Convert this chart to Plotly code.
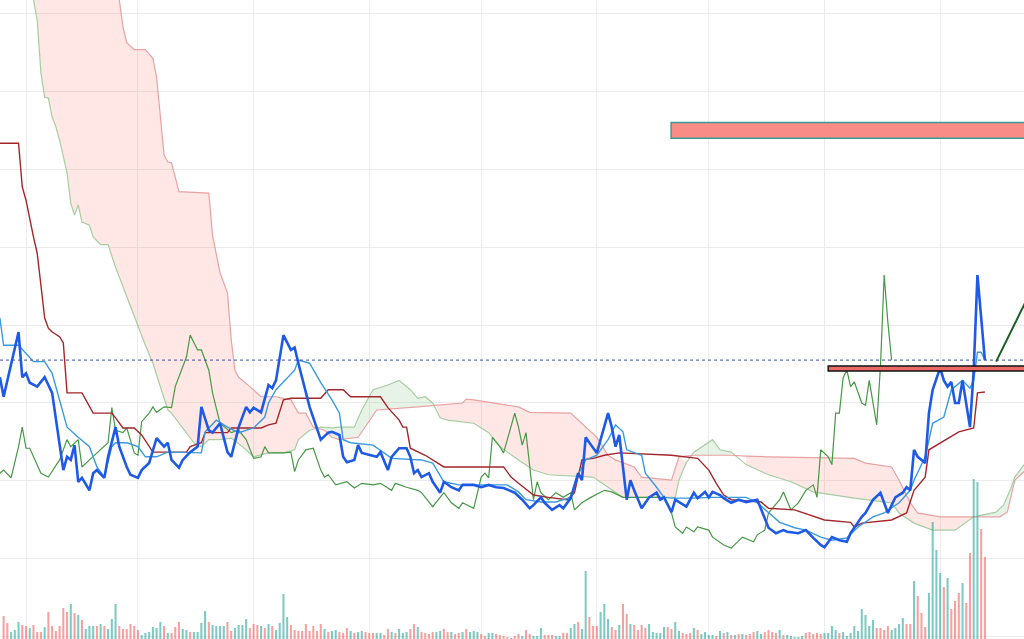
import pandas as pd
import plotly.graph_objects as go

START = pd.Timestamp("2018-06-01")

# (day offset from START, close)
price = [(-7,33.3),(-6,30.8),(-2,39.1),(-1,33.3),(0,33.8),(1,32.6),(3,32.1),(5,33.3),(7,31.3),(10,21.4),
         (11,23.1),(12,22.7),(13,24.6),(14,19.9),(15,20.4),(17,18.8),(18,21.0),(19,21.4),(21,20.4),(22,23.1),
         (24,26.9),(25,24.4),(27,21.8),(28,20.8),(30,20.4),(31,21.4),(33,22.3),(35,25.5),(37,24.4),(38,24.9),
         (39,22.7),(41,21.7),(42,22.7),(44,23.7),(46,24.4),(47,29.5),(49,26.5),(50,26.2),(52,27.4),(54,23.7),
         (55,23.1),(57,26.9),(59,29.5),(60,28.8),(61,29.4),(63,28.8),(65,32.3),(66,31.9),(67,32.9),(69,38.7),
         (71,36.8),(72,37.1),(73,35.1),(76,29.5),(79,25.3),(81,26.2),(82,26.3),(84,25.9),(85,23.1),(86,22.4),
         (88,22.7),(89,24.6),(90,23.6),(92,23.3),(94,23.1),(95,23.7),(97,21.4),(98,23.1),(100,24.2),(102,24.2),
         (103,23.1),(104,21.0),(105,21.4),(106,20.5),(108,21.0),(109,19.9),(111,18.5),(112,19.9),(114,19.2),
         (116,18.8),(117,19.5),(120,19.5),(122,19.2),(124,19.5),(126,19.2),(128,19.1),(131,18.5),(133,17.6),
         (135,16.5),(136,16.9),(138,17.9),(139,17.2),(141,16.3),(143,16.9),(144,16.5),(146,17.8),(148,21.0),
         (149,20.1),(150,25.6),(151,24.9),(153,23.6),(156,28.7),(157,26.9),(158,24.4),(159,25.9),(161,17.6),
         (162,20.1),(163,18.8),(164,17.6),(165,16.5),(167,17.9),(169,18.5),(170,17.6),(171,17.9),(173,16.0),
         (174,17.6),(177,16.7),(179,18.5),(180,17.8),(182,18.6),(183,17.9),(184,18.6),(186,18.2),(187,17.8),
         (189,17.2),(191,17.6),(193,17.3),(196,17.6),(199,14.0),(201,13.3),(203,13.7),(204,13.5),(207,13.3),
         (209,13.7),(211,12.7),(213,11.8),(214,11.5),(216,12.8),(218,12.4),(220,12.2),(221,13.3),(224,15.4),
         (225,15.9),(227,17.6),(229,18.5),(231,15.9),(233,17.9),(235,18.5),(236,19.2),(237,18.8),(238,24.0),
         (239,23.1),(241,22.3),(242,28.7),(243,31.7),(245,34.5),(246,32.9),(247,32.1),(248,32.7),(249,30.0),
         (250,30.0),(251,32.9),(253,26.9),(254,34.2),(255,46.4),(257,35.5)]

tenkan = [(-7,40.9),(-6,37.4),(-3,37.4),(-2,37.4),(2,35.3),(5,35.3),(7,33.8),(11,26.9),(14,25.6),(17,24.4),
          (19,21.8),(21,20.5),(23,24.4),(24,24.9),(27,24.9),(30,24.4),(32,23.1),(35,23.1),(38,23.7),(45,23.6),
          (47,23.6),(48,26.3),(51,27.8),(54,26.9),(57,26.2),(61,26.8),(64,28.2),(65,30.0),(67,31.7),(72,34.2),
          (73,35.5),(76,35.1),(79,32.6),(82,30.4),(84,28.7),(85,25.3),(87,24.9),(93,24.6),(96,23.6),(98,22.9),
          (106,22.7),(109,22.3),(112,19.9),(116,19.5),(129,19.5),(132,18.6),(134,17.6),(138,17.3),(142,17.3),
          (146,17.9),(147,19.2),(148,20.8),(150,22.7),(153,23.3),(156,25.3),(158,27.2),(160,26.3),(161,24.0),
          (165,23.3),(166,21.0),(169,19.2),(171,17.9),(173,17.8),(179,17.8),(184,17.9),(193,17.9),(196,17.2),
          (199,15.9),(202,14.7),(206,14.0),(209,13.7),(213,12.8),(216,12.4),(220,12.7),(223,14.1),(227,15.4),
          (230,15.9),(234,17.2),(237,18.8),(238,20.1),(241,23.1),(243,27.4),(246,28.2),(248,31.7),(251,32.9),
          (253,31.9),(254,32.9),(255,36.5),(256,36.5),(257,35.5)]

kijun = [(-7,63.3),(-2,63.3),(-1,57.7),(0,56.0),(2,51.3),(3,49.2),(4,45.1),(5,40.9),(6,39.6),(7,39.1),
         (9,38.5),(10,37.7),(11,31.3),(15,31.3),(18,28.7),(23,28.7),(24,28.1),(26,26.8),(29,26.8),(31,25.9),
         (34,23.7),(43,23.7),(44,24.4),(47,24.9),(48,26.2),(54,26.2),(55,26.8),(63,26.8),(65,27.2),(67,27.4),
         (69,30.4),(71,30.6),(79,30.6),(81,31.7),(85,31.7),(87,30.8),(95,30.8),(97,29.4),(100,27.8),(101,26.9),
         (102,26.9),(103,24.2),(107,23.3),(112,21.8),(128,21.8),(130,20.5),(132,19.7),(136,18.2),(140,17.9),
         (145,17.6),(147,18.5),(149,22.7),(152,22.9),(155,23.3),(159,23.6),(173,23.3),(180,22.9),(183,21.4),
         (185,19.7),(187,18.2),(189,17.6),(197,17.3),(199,16.5),(206,16.3),(214,15.0),(221,14.7),(222,14.1),
         (224,14.6),(232,15.0),(236,15.9),(238,18.8),(241,20.5),(242,24.0),(245,24.9),(250,26.3),(254,26.8),
         (255,31.3),(257,31.4)]

chikou = [(-7,21.0),(-6,21.4),(-4,20.4),(-2,24.4),(-1,26.9),(0,24.2),(1,24.2),(4,21.0),(6,20.5),(7,21.2),
          (9,22.7),(11,25.3),(12,24.4),(14,25.3),(15,21.8),(17,22.7),(20,24.0),(22,24.9),(23,29.4),(24,26.5),
          (26,26.2),(27,26.8),(29,23.6),(30,23.3),(31,27.6),(33,28.7),(34,29.5),(35,28.8),(37,29.5),(39,29.4),
          (40,32.1),(41,33.3),(43,35.9),(44,38.7),(46,36.8),(47,36.8),(49,34.2),(50,31.3),(52,27.4),(55,26.2),
          (57,26.5),(59,25.3),(61,22.9),(63,23.1),(64,24.4),(65,23.6),(69,23.6),(71,23.7),(72,21.2),(73,22.7),
          (75,24.0),(77,24.2),(79,21.4),(80,20.5),(81,20.8),(83,19.5),(86,19.9),(88,19.1),(90,19.7),(93,19.5),
          (95,19.7),(98,18.8),(99,19.7),(102,19.2),(105,18.8),(106,18.5),(109,16.7),(112,18.5),(114,17.2),
          (116,16.5),(117,17.2),(120,16.5),(121,18.5),(122,20.5),(123,21.0),(124,20.4),(125,25.6),(127,24.4),
          (128,23.6),(131,28.7),(132,26.9),(133,24.6),(134,26.2),(135,22.3),(136,17.6),(137,19.9),(138,18.5),
          (140,17.6),(142,18.5),(144,17.9),(146,18.5),(147,16.3),(149,17.2),(151,17.8),(155,18.8),(157,18.6),
          (160,17.9),(168,17.9),(171,17.9),(173,15.9),(174,14.1),(176,13.3),(177,14.1),(179,13.5),(180,14.1),
          (183,13.7),(184,12.8),(187,11.8),(189,11.4),(192,12.8),(195,12.2),(196,13.1),(198,13.7),(199,15.9),
          (202,17.6),(203,18.6),(205,16.3),(207,17.2),(209,18.8),(211,19.5),(212,17.9),(213,24.0),(215,23.1),
          (216,22.1),(217,28.7),(218,28.7),(219,33.2),(220,34.2),(221,32.1),(222,32.7),(224,30.0),(225,29.7),
          (226,32.9),(228,27.2),(229,34.6),(230,46.4),(231,40.3),(232,35.5)]

span_a = [(1,83.6),(2,81.7),(3,79.1),(4,72.3),(5,69.2),(6,69.1),(7,66.7),(8,65.4),(9,63.7),(11,59.5),
          (12,55.6),(13,54.1),(14,55.4),(15,53.2),(17,52.8),(18,51.3),(20,50.3),(22,50.3),(24,47.4),(27,43.6),
          (29,41.3),(31,38.7),(32,37.4),(34,35.1),(36,32.1),(37,30.4),(38,29.1),(39,28.7),(41,27.4),(43,26.2),
          (45,24.9),(47,24.4),(49,25.3),(52,25.3),(55,25.5),(58,24.4),(61,23.1),(65,23.6),(69,23.6),(72,24.0),
          (73,25.3),(76,26.5),(79,26.9),(82,26.8),(84,26.9),(88,26.9),(90,29.1),(93,31.7),(97,32.3),(100,32.9),
          (103,31.7),(105,30.6),(107,30.8),(109,30.0),(111,28.1),(113,27.8),(120,27.4),(124,26.2),(127,24.4),
          (132,22.7),(136,21.4),(140,20.8),(152,20.5),(156,19.2),(160,17.9),(174,17.9),(175,20.1),(177,22.4),
          (179,23.7),(184,25.3),(186,24.0),(189,23.7),(193,22.1),(199,20.8),(205,19.9),(211,18.6),(222,17.8),
          (232,17.2),(234,15.9),(238,14.6),(243,13.7),(249,13.7),(252,14.7),(254,15.4),(260,16.0),(262,16.9),
          (264,19.1),(265,20.5),(268,22.4),(272,25.5)]

span_b = [(2,91.9),(23,83.0),(25,81.7),(26,78.2),(27,76.2),(29,75.3),(32,75.3),(34,74.2),(35,71.8),(37,61.8),
          (38,60.9),(39,60.8),(41,57.1),(49,56.9),(50,51.5),(52,46.7),(54,44.1),(55,38.1),(56,34.2),(57,33.3),
          (60,32.1),(63,30.8),(67,30.8),(71,30.4),(73,28.7),(75,28.7),(77,26.9),(80,26.5),(82,25.6),(84,25.3),
          (89,25.6),(92,27.8),(94,29.1),(105,29.5),(110,29.7),(117,30.0),(118,30.5),(120,30.4),(132,29.5),
          (135,28.8),(146,28.7),(148,27.8),(153,25.6),(156,23.3),(158,22.7),(163,21.8),(165,20.5),(173,20.1),
          (175,23.1),(179,23.3),(189,23.3),(193,23.2),(199,23.1),(222,22.9),(225,22.3),(232,21.8),(234,20.1),
          (237,17.2),(239,15.9),(245,15.4),(250,15.4),(254,15.4),(261,15.4),(263,16.0),(264,17.9),(265,20.1),
          (267,21.0),(268,21.4),(272,23.0)]

# days where span A and span B swap places (bearish cloud first)
cloud_turns = [78, 110, 178, 190, 254]

vol_first_day = -6
volume = [23,16,7,9,17,14,13,11,14,7,7,12,27,13,8,13,31,27,35,26,24,19,10,13,13,13,15,13,10,20,
          35,13,10,10,15,13,9,4,6,7,12,11,17,13,6,6,12,17,10,9,7,7,7,16,28,17,14,13,13,13,
          17,8,11,14,14,20,11,15,
          14,13,11,15,13,9,16,45,22,14,9,8,8,15,8,13,8,15,10,7,8,9,7,6,11,8,6,7,8,7,
          6,6,6,6,4,10,7,6,10,6,7,10,15,12,7,6,5,7,7,8,10,7,7,5,6,7,10,7,8,7,5,3,6,6,5,4,3,2,1,
          3,5,3,9,5,3,3,11,4,4,4,3,3,6,6,11,15,17,10,68,22,13,13,27,35,20,12,9,14,35,
          25,15,14,9,14,11,15,7,6,6,12,12,10,17,8,6,5,6,11,9,5,7,4,4,3,8,6,7,4,4,5,5,4,5,7,8,5,7,9,
          7,6,9,4,4,3,2,2,3,6,7,5,6,5,6,6,13,9,6,7,3,6,13,8,30,24,13,19,11,11,
          9,13,9,11,15,21,15,15,58,43,26,12,46,117,89,66,52,61,30,38,46,56,36,86,160,157,110,82]
vol_dir = ("ddtttddtdd" "dtddddddtd" "tdtttdtdtt" "tddddddttt" "tttdtdddtt" "dttttdtttt" "ddttttdd"
           "dtdtdttttd" "ddddddddtd" "ttdddtdttd" "ddttddtdtt" "tddtddddtt" "ddtddtdttt" "ddttddddt"
           "ddtddtttdd" "dttddttdtt" "dddtttddtd" "dtddddtttt" "tddttdddtd" "ttttdtdtdt" "dtdddttdd"
           "ddtdtttttd" "ddddttttdt" "ttttttttdd" "ddttttddtd" "ddttttdtdd" "dtddttdd")

zone_upper = (172.9, 63.95, 65.95)   # start day, low, high
zone_lower = (215.0, 34.1, 34.75)
trend_line = [(260.0, 35.3), (270.0, 45.0)]


def dates(days):
    return [START + pd.Timedelta(days=float(d)) for d in days]


fig = go.Figure()

# cloud fills
bounds = [-1e9] + cloud_turns + [1e9]
fill_cols = ["rgba(244,67,54,0.13)", "rgba(67,160,71,0.13)"]
for k in range(len(bounds) - 1):
    lo, hi = bounds[k], bounds[k + 1]
    a = [p for p in span_a if lo <= p[0] <= hi]
    b = [p for p in span_b if lo <= p[0] <= hi]
    xs = [p[0] for p in a] + [p[0] for p in reversed(b)]
    ys = [p[1] for p in a] + [p[1] for p in reversed(b)]
    fig.add_trace(go.Scatter(x=dates(xs), y=ys, mode="lines", fill="toself",
                             fillcolor=fill_cols[k % 2], line=dict(width=0),
                             hoverinfo="skip"))


def line(series, color, width):
    fig.add_trace(go.Scatter(x=dates([p[0] for p in series]), y=[p[1] for p in series],
                             mode="lines", line=dict(color=color, width=width)))


line(span_a, "#a6cda2", 1.2)
line(span_b, "#e8a2a2", 1.2)
line(chikou, "#479847", 1.2)
line(kijun, "#a3262a", 1.4)
line(tenkan, "#3a9ae0", 1.4)
line(price, "#1e5ae6", 2.6)

vol_days = list(range(vol_first_day, vol_first_day + len(volume)))
fig.add_trace(go.Bar(x=dates(vol_days), y=volume, yaxis="y2",
                     marker=dict(color=["rgba(38,166,154,0.6)" if c == "t" else "rgba(239,83,80,0.55)"
                                        for c in vol_dir], line=dict(width=0))))

last_close = price[-1][1]
shapes = [
    dict(type="line", xref="paper", x0=0, x1=1, yref="y", y0=last_close, y1=last_close,
         line=dict(color="#3b4fa0", width=1, dash="dot")),
    dict(type="rect", xref="x", yref="y", x0=dates([zone_upper[0]])[0], x1=dates([300])[0],
         y0=zone_upper[1], y1=zone_upper[2], fillcolor="#fa8c87",
         line=dict(color="#3c9a96", width=1.5)),
    dict(type="rect", xref="x", yref="y", x0=dates([zone_lower[0]])[0], x1=dates([300])[0],
         y0=zone_lower[1], y1=zone_lower[2], fillcolor="#ec6a66",
         line=dict(color="#111111", width=1.5)),
    dict(type="line", xref="x", yref="y", x0=dates([trend_line[0][0]])[0], y0=trend_line[0][1],
         x1=dates([trend_line[1][0]])[0], y1=trend_line[1][1],
         line=dict(color="#1b5e20", width=2)),
]

fig.update_layout(
    width=1024, height=639, margin=dict(l=0, r=0, t=0, b=0),
    paper_bgcolor="white", plot_bgcolor="white", showlegend=False, bargap=0.45,
    shapes=shapes,
    xaxis=dict(type="date", range=dates([-6.97, 267.48]), dtick="M1", tick0="2018-06-01",
               showticklabels=False, showgrid=True, gridcolor="#ececec", gridwidth=1,
               zeroline=False, showline=False, ticks=""),
    yaxis=dict(range=[-0.26, 81.67], dtick=10, tick0=0, showticklabels=False, showgrid=True,
               gridcolor="#ececec", gridwidth=1, zeroline=False, showline=False, ticks=""),
    yaxis2=dict(overlaying="y", range=[0, 639], showgrid=False, showticklabels=False,
                zeroline=False, showline=False, ticks=""),
)

fig.write_html("out.html", config={"displayModeBar": False},
               post_script="document.body.style.margin='0';document.body.style.overflow='hidden';")
